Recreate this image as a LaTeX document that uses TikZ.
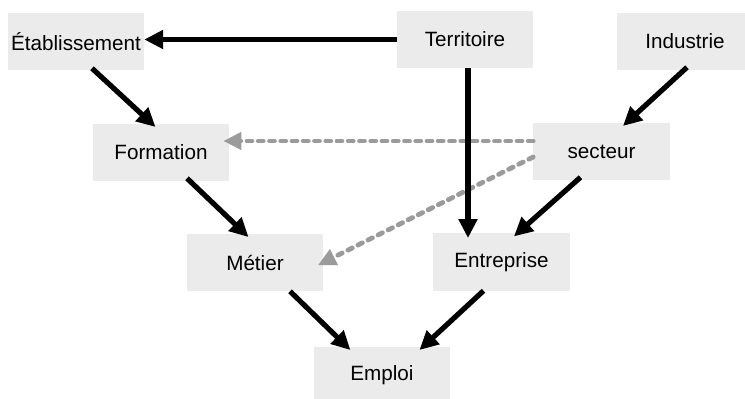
\documentclass[tikz,border=0pt]{standalone}
\usepackage{fontspec}
\setmainfont{Liberation Sans}
\usetikzlibrary{calc,arrows.meta}
\definecolor{boxgray}{RGB}{235,235,235}
\definecolor{dashgray}{RGB}{155,155,155}

\begin{document}
\begin{tikzpicture}[x=0.025cm, y=-0.025cm,
    box/.style={fill=boxgray, minimum width=3.4cm, minimum height=1.425cm, inner sep=0pt, font=\fontsize{14.7}{17}\selectfont},
    arr/.style={line width=0.13cm, -{Triangle[length=0.47cm, width=0.45cm]}, shorten >=-0.12cm},
    dasharr/.style={dashgray, line width=0.12cm, line cap=round, dash pattern=on 3.5pt off 4.5pt, -{Triangle[length=0.45cm, width=0.42cm]}, shorten >=-0.15cm}]
\useasboundingbox (0,0) rectangle (745,399);

\node[box] (etab) at (76,41.5) {Établissement};
\node[box] (terr) at (465,39.5) {Territoire};
\node[box] (indus) at (685,41.5) {Industrie};
\node[box] (form) at (161,152.5) {Formation};
\node[box] (sect) at (601.5,151.5) {secteur};
\node[box] (metier) at (255,262.5) {Métier};
\node[box] (entr) at (501.5,262) {Entreprise};
\node[box] (emploi) at (382,375.5) {Emploi};

\coordinate (secthi) at ($(sect.west)+(0,-10.5)$);
\coordinate (sectlo) at ($(sect.west)+(0,5.5)$);
\coordinate (terrlo) at ($(terr.south)+(3,0)$);

\draw[dasharr] (secthi) -- (secthi -| form.east);
\draw[dasharr] (sectlo) -- (metier.east);

\draw[arr, shorten >=0pt] (terr.west) -- (terr.west -| etab.east);
\draw[arr] (terrlo) -- (terrlo |- entr.north);
\draw[arr] ($(etab.south)+(16,-2)$) -- ($(form.north)+(-9,0)$);
\draw[arr] ($(form.south)+(26,-3)$) -- ($(metier.north)+(-10,0)$);
\draw[arr] ($(metier.south)+(35,0)$) -- ($(emploi.north)+(-35,0)$);
\draw[arr] ($(entr.south)+(-18,0)$) -- ($(emploi.north)+(41,0)$);
\draw[arr] ($(sect.south)+(-21,-3)$) -- ($(entr.north)+(16,0)$);
\draw[arr] ($(indus.south)+(2,-3)$) -- ($(sect.north)+(25,0)$);
\end{tikzpicture}
\end{document}
